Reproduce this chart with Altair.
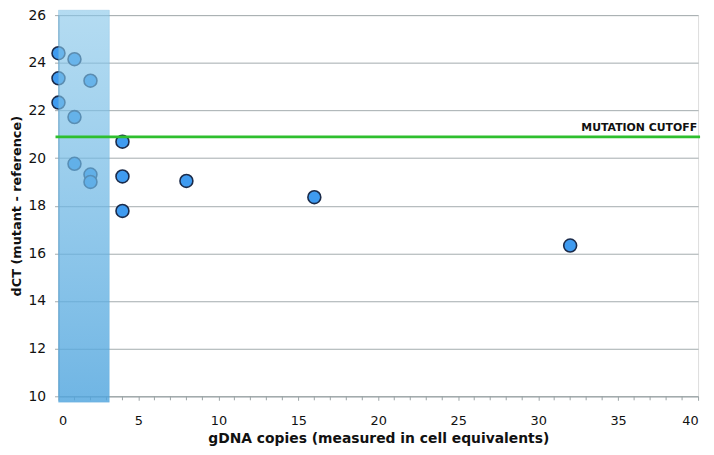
import altair as alt
import pandas as pd

# data
copies = [0, 1, 0, 2, 0, 1, 4, 1, 2, 2, 4, 8, 4, 16, 32]
dct = [24.4, 24.15, 23.35, 23.25, 22.33, 21.72, 20.69, 19.76, 19.31, 19.0, 19.23, 19.04, 17.78, 18.36, 16.33]
cutoff_value = [20.89]
cutoff_label = ["MUTATION CUTOFF"]
band_start = [0]
band_end = [3.18]
y_ticks = list(range(10, 27, 2))
x_major = list(range(0, 41, 5))
x_minor = [v for v in range(0, 41) if v % 5 != 0]

W, H = 646, 385
TOP = 5
FONT = "DejaVu Sans"

pts = pd.DataFrame({"copies": copies, "dct": dct})
band = pd.DataFrame({"x0": band_start, "x1": band_end})
cut = pd.DataFrame({"y": cutoff_value, "label": cutoff_label})
minor = pd.DataFrame({"x": x_minor})

xscale = alt.Scale(domain=[0, 40], nice=False, zero=False)
yscale = alt.Scale(domain=[10, 26], nice=False, zero=False)

base_pts = alt.Chart(pts).mark_point(
    filled=True, size=170, fill="#3f9bf0", stroke="#1b2b4a", strokeWidth=1.6, opacity=1
).encode(
    x=alt.X("copies:Q", scale=xscale, axis=alt.Axis(
        values=x_major, labelOverlap=False,
        title="gDNA copies (measured in cell equivalents)", grid=False,
        domainColor="#9aa3a5", tickColor="#9aa3a5", tickSize=4,
        labelFontSize=13, labelColor="#111", labelFont=FONT, labelPadding=14,
        titleFont=FONT, titleFontSize=14, titleFontWeight="bold", titleColor="#111",
        titlePadding=5)),
    y=alt.Y("dct:Q", scale=yscale, axis=alt.Axis(
        values=y_ticks, title="dCT (mutant - reference)", grid=True,
        gridColor="#a3abad", gridWidth=1, domainColor="#7f9fb5", tickColor="#a3abad",
        tickSize=4, labelFontSize=14, labelColor="#111", labelFont=FONT, labelPadding=9,
        labelOverlap=False,
        titleFont=FONT, titleFontSize=13, titleFontWeight="bold", titleColor="#111",
        titlePadding=5)),
)

minor_ticks = alt.Chart(minor).mark_rule(color="#9aa3a5", strokeWidth=1).encode(
    x=alt.X("x:Q", scale=xscale),
    y=alt.value(H),
    y2=alt.value(H + 4),
)

grad = alt.LinearGradient(
    gradient="linear",
    stops=[alt.GradientStop(color="rgba(134,198,233,0.62)", offset=0),
           alt.GradientStop(color="rgba(80,165,222,0.82)", offset=1)],
    x1=0, x2=0, y1=0, y2=1,
)

band_layer = alt.Chart(band).mark_rect(fill=grad, stroke="#5aa6d8", strokeOpacity=0.25).encode(
    x=alt.X("x0:Q", scale=xscale),
    x2="x1:Q",
    y=alt.value(-TOP),
    y2=alt.value(H + 6),
)

rule = alt.Chart(cut).mark_rule(color="#2ebf2e", strokeWidth=3).encode(
    y=alt.Y("y:Q", scale=yscale),
    x=alt.value(-3),
    x2=alt.value(W + 2),
)

label = alt.Chart(cut).mark_text(
    align="right", baseline="alphabetic", dy=-6, font=FONT, fontSize=11,
    fontWeight="bold", color="#111"
).encode(
    y=alt.Y("y:Q", scale=yscale),
    x=alt.value(W - 1),
    text="label:N",
)

chart = alt.layer(base_pts, minor_ticks, band_layer, rule, label).properties(
    width=W, height=H,
    autosize=alt.AutoSizeParams(type="none"),
    padding={"left": 51, "top": TOP, "right": 8, "bottom": 49},
).configure_view(stroke=None).configure(background="white")

chart.save("out.html", embed_options={"renderer": "svg", "actions": False})
